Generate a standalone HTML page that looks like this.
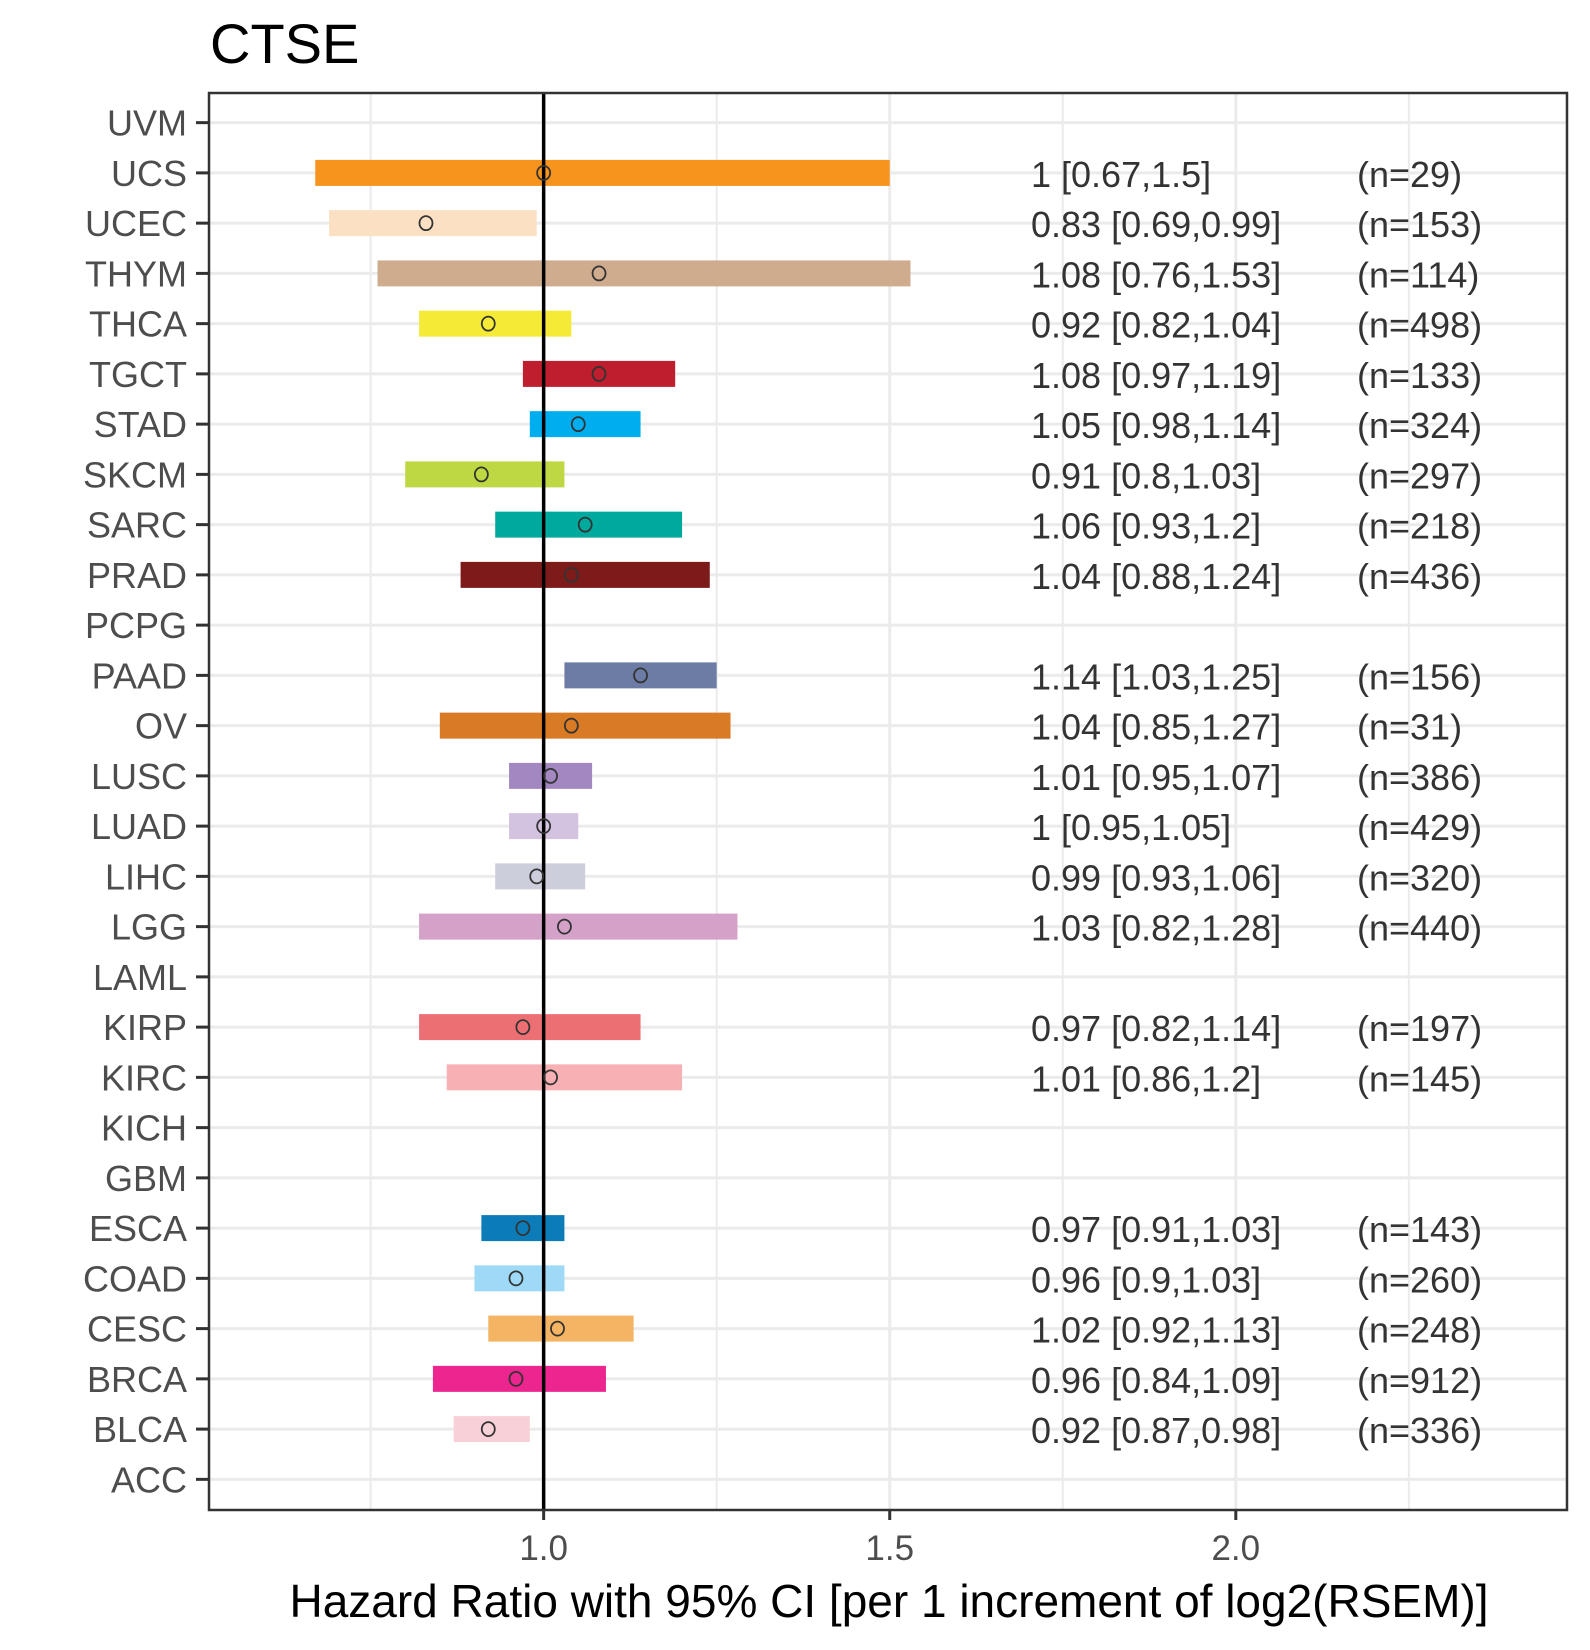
<!DOCTYPE html>
<html><head><meta charset="utf-8"><style>
html,body{margin:0;padding:0;background:#fff;}
svg{display:block;font-family:"Liberation Sans",Arial,sans-serif;}
</style></head><body>
<svg id="chart" width="1590" height="1650" viewBox="0 0 1590 1650">
<text x="210" y="63" font-size="56" fill="#000">CTSE</text>
<g id="grid"></g>
<g id="bars"></g>
<g id="labels"></g>
<rect x="209" y="93" width="1358" height="1417" fill="none" stroke="#333" stroke-width="2.5"/>
<text x="889" y="1617" font-size="46" fill="#000" text-anchor="middle">Hazard Ratio with 95% CI [per 1 increment of log2(RSEM)]</text>
</svg>
<script>
const categories = ["UVM","UCS","UCEC","THYM","THCA","TGCT","STAD","SKCM","SARC","PRAD","PCPG","PAAD","OV","LUSC","LUAD","LIHC","LGG","LAML","KIRP","KIRC","KICH","GBM","ESCA","COAD","CESC","BRCA","BLCA","ACC"];
const hr =    [null,1,0.83,1.08,0.92,1.08,1.05,0.91,1.06,1.04,null,1.14,1.04,1.01,1,0.99,1.03,null,0.97,1.01,null,null,0.97,0.96,1.02,0.96,0.92,null];
const lower = [null,0.67,0.69,0.76,0.82,0.97,0.98,0.8,0.93,0.88,null,1.03,0.85,0.95,0.95,0.93,0.82,null,0.82,0.86,null,null,0.91,0.9,0.92,0.84,0.87,null];
const upper = [null,1.5,0.99,1.53,1.04,1.19,1.14,1.03,1.2,1.24,null,1.25,1.27,1.07,1.05,1.06,1.28,null,1.14,1.2,null,null,1.03,1.03,1.13,1.09,0.98,null];
const nSamples = [null,29,153,114,498,133,324,297,218,436,null,156,31,386,429,320,440,null,197,145,null,null,143,260,248,912,336,null];
const colors = [null,"#F7941D","#FBE0C4","#CFAC8E","#F5EB37","#BE1E2D","#00AEEF","#BED843","#00A99D","#7D1A1A",null,"#6C7CA5","#D97B25","#A287C0","#D4C3E0","#CDCEDC","#D4A1C9",null,"#EC7073","#F7B1B4",null,null,"#0B7CB8","#9EDAF7","#F5B463","#EC258F","#F8D0D8",null];
const xTicks = [1.0,1.5,2.0];
const xTickLabels = ["1.0","1.5","2.0"];
const xMinor = [0.75,1.25,1.75,2.25];

const ns="http://www.w3.org/2000/svg";
const L=209,R=1567,T=93,B=1510;
const x0=0.5165, x1=2.4785;
function xs(v){return L+(v-x0)/(x1-x0)*(R-L);}
const step=(B-T)/(categories.length+0.2);
function ys(i){return T+(0.6+i)*step - 0.5;}
function mk(tag,attrs,parent){const e=document.createElementNS(ns,tag);for(const k in attrs)e.setAttribute(k,attrs[k]);parent.appendChild(e);return e;}
const grid=document.getElementById('grid'),bars=document.getElementById('bars'),labels=document.getElementById('labels');

xMinor.forEach(v=>{const l=mk('line',{x1:xs(v),x2:xs(v),y1:T,y2:B,stroke:'#ebebeb','stroke-width':2},grid);

});
xTicks.forEach((v,i)=>{const l=mk('line',{x1:xs(v),x2:xs(v),y1:T,y2:B,stroke:'#ebebeb','stroke-width':3},grid);


const t=mk('line',{x1:xs(v),x2:xs(v),y1:B,y2:B+10,stroke:'#333','stroke-width':3},labels);


const tx=mk('text',{x:xs(v),y:1560,'font-size':35,fill:'#4d4d4d','text-anchor':'middle'},labels);
tx.textContent=xTickLabels[i];

});

categories.forEach((c,i)=>{const y=ys(i);
const g=mk('line',{x1:L,x2:R,y1:y,y2:y,stroke:'#ebebeb','stroke-width':3},grid);


const tk=mk('line',{x1:196,x2:209,y1:y,y2:y,stroke:'#333','stroke-width':3},labels);


const lb=mk('text',{x:187,y:y+13,'font-size':36,fill:'#4d4d4d','text-anchor':'end'},labels);
lb.textContent=c;


if(hr[i]!==null){
const r=mk('rect',{x:xs(lower[i]),y:y-13,width:xs(upper[i])-xs(lower[i]),height:26,fill:colors[i]},bars);


const p=mk('ellipse',{cx:xs(hr[i]),cy:y,rx:6.5,ry:7,fill:'none',stroke:'#333','stroke-width':1.8},labels);


const t1=mk('text',{x:1031,y:y+14,'font-size':36,fill:'#333'},labels);
t1.textContent=hr[i]+' ['+lower[i]+','+upper[i]+']';


const t2=mk('text',{x:1357,y:y+14,'font-size':36,fill:'#333'},labels);
t2.textContent='(n='+nSamples[i]+')';


}});
const ref=mk('line',{x1:xs(1),x2:xs(1),y1:T,y2:B,stroke:'#000','stroke-width':3.5},bars);


</script>
</body></html>
